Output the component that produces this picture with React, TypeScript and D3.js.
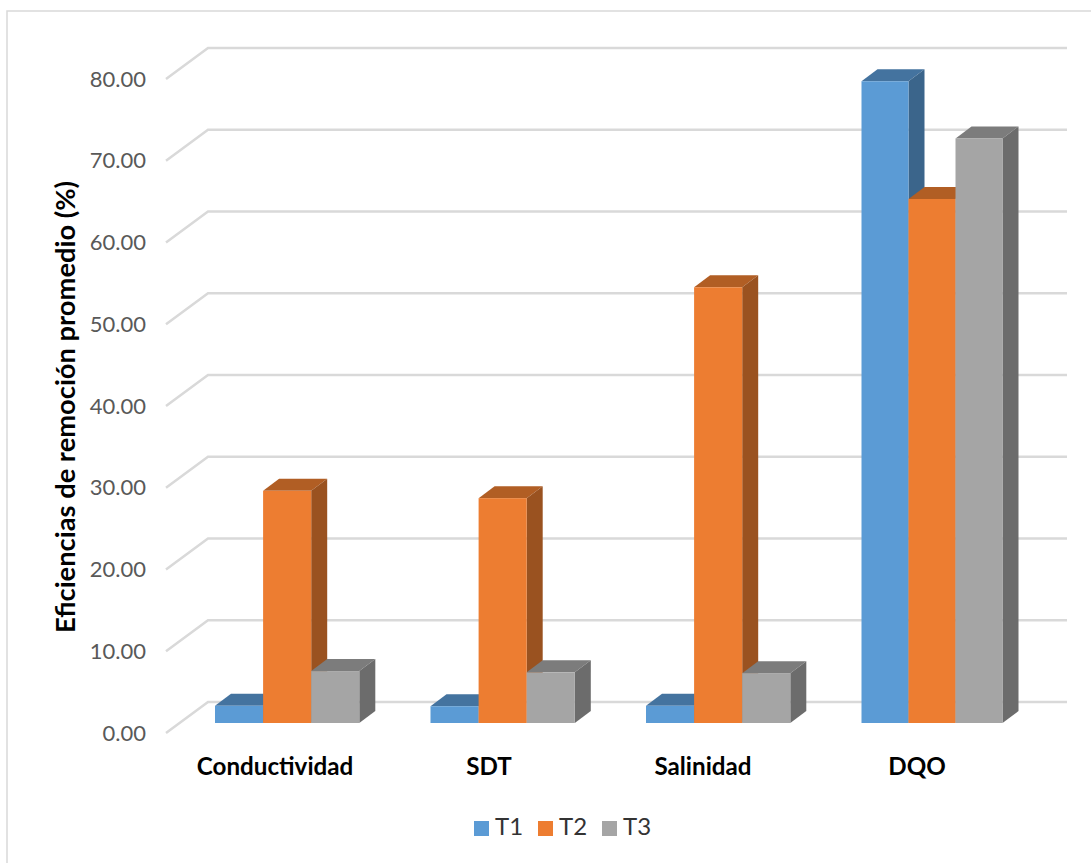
import React from "react";
import * as d3 from "d3";

const categories = ["Conductividad", "SDT", "Salinidad", "DQO"];
const seriesNames = ["T1", "T2", "T3"];
const t1 = [2.1, 2.05, 2.1, 78.5];
const t2 = [28.4, 27.5, 53.3, 64.1];
const t3 = [6.35, 6.2, 6.1, 71.5];
const seriesValues = [t1, t2, t3];
const yTicks = [0, 10, 20, 30, 40, 50, 60, 70, 80];

const front = ["#5b9bd5", "#ed7d31", "#a5a5a5"];
const top = ["#44739f", "#b15e24", "#7c7c7c"];
const side = ["#3b658b", "#9a5220", "#6c6c6c"];
const font = "Lato, 'Open Sans', sans-serif";

export default function App() {
  const W = 1091, H = 863;
  const yWall = d3.scaleLinear().domain([0, 80]).range([733, 79]);
  const yBar = d3.scaleLinear().domain([0, 80]).range([723, 69]);
  const x0 = d3.scaleBand<string>().domain(categories).range([179, 1041]).paddingInner(0);
  const xLabel = d3.scalePoint<string>().domain(categories).range([275, 917]);
  const groupW = (c: string) => (c === "DQO" ? 141 : 144.3);
  const wallDX = 42, wallDY = -31, wallRight = 1067;
  const dx = 16, dy = -12;
  const poly = (pts: number[][]) => d3.line()(pts as [number, number][]) + "Z";

  return (
    <svg width={W} height={H} style={{ position: "absolute", left: 0, top: 0, background: "#fff" }}>
      <path d={`M7 ${H}V11H${W}`} fill="none" stroke="#d9d9d9" strokeWidth={1.5} />
      {yTicks.map((t) => (
        <g key={t}>
          <path
            d={`M166 ${yWall(t)}L${166 + wallDX} ${yWall(t) + wallDY}H${wallRight}`}
            fill="none"
            stroke="#d9d9d9"
            strokeWidth={2.5}
          />
          <text x={146} y={yWall(t)} dy="0.35em" textAnchor="end" fontFamily={font} fontSize={22} fill="#595959">
            {t.toFixed(2)}
          </text>
        </g>
      ))}
      {categories.map((c, i) => {
        const left = (x0(c) as number) + 36;
        const barX = d3.scaleBand<string>().domain(seriesNames).range([0, groupW(c)]);
        return (
          <g key={c}>
            {seriesNames.map((s, j) => {
              const v = seriesValues[j][i];
              const x = left + (barX(s) as number);
              const w = barX.bandwidth();
              const yt = yBar(v), yb = yBar(0);
              return (
                <g key={s}>
                  <path d={poly([[x, yt], [x + dx, yt + dy], [x + w + dx, yt + dy], [x + w, yt]])} fill={top[j]} />
                  <path d={poly([[x + w, yt], [x + w + dx, yt + dy], [x + w + dx, yb + dy], [x + w, yb]])} fill={side[j]} />
                  <rect x={x} y={yt} width={w} height={yb - yt} fill={front[j]} />
                </g>
              );
            })}
            <text x={xLabel(c)} y={775} textAnchor="middle" fontFamily={font} fontWeight={700} fontSize={24.2} fill="#000">
              {c}
            </text>
          </g>
        );
      })}
      <text
        transform="translate(75,407) rotate(-90)"
        textAnchor="middle"
        fontFamily={font}
        fontWeight={700}
        fontSize={27.3}
        fill="#000"
      >
        Eficiencias de remoción promedio (%)
      </text>
      {seriesNames.map((s, j) => (
        <g key={s} transform={`translate(${474 + j * 64},821)`}>
          <rect width={15} height={15} fill={front[j]} />
          <text x={21} y={14} fontFamily={font} fontSize={24} fill="#333333">
            {s}
          </text>
        </g>
      ))}
    </svg>
  );
}
